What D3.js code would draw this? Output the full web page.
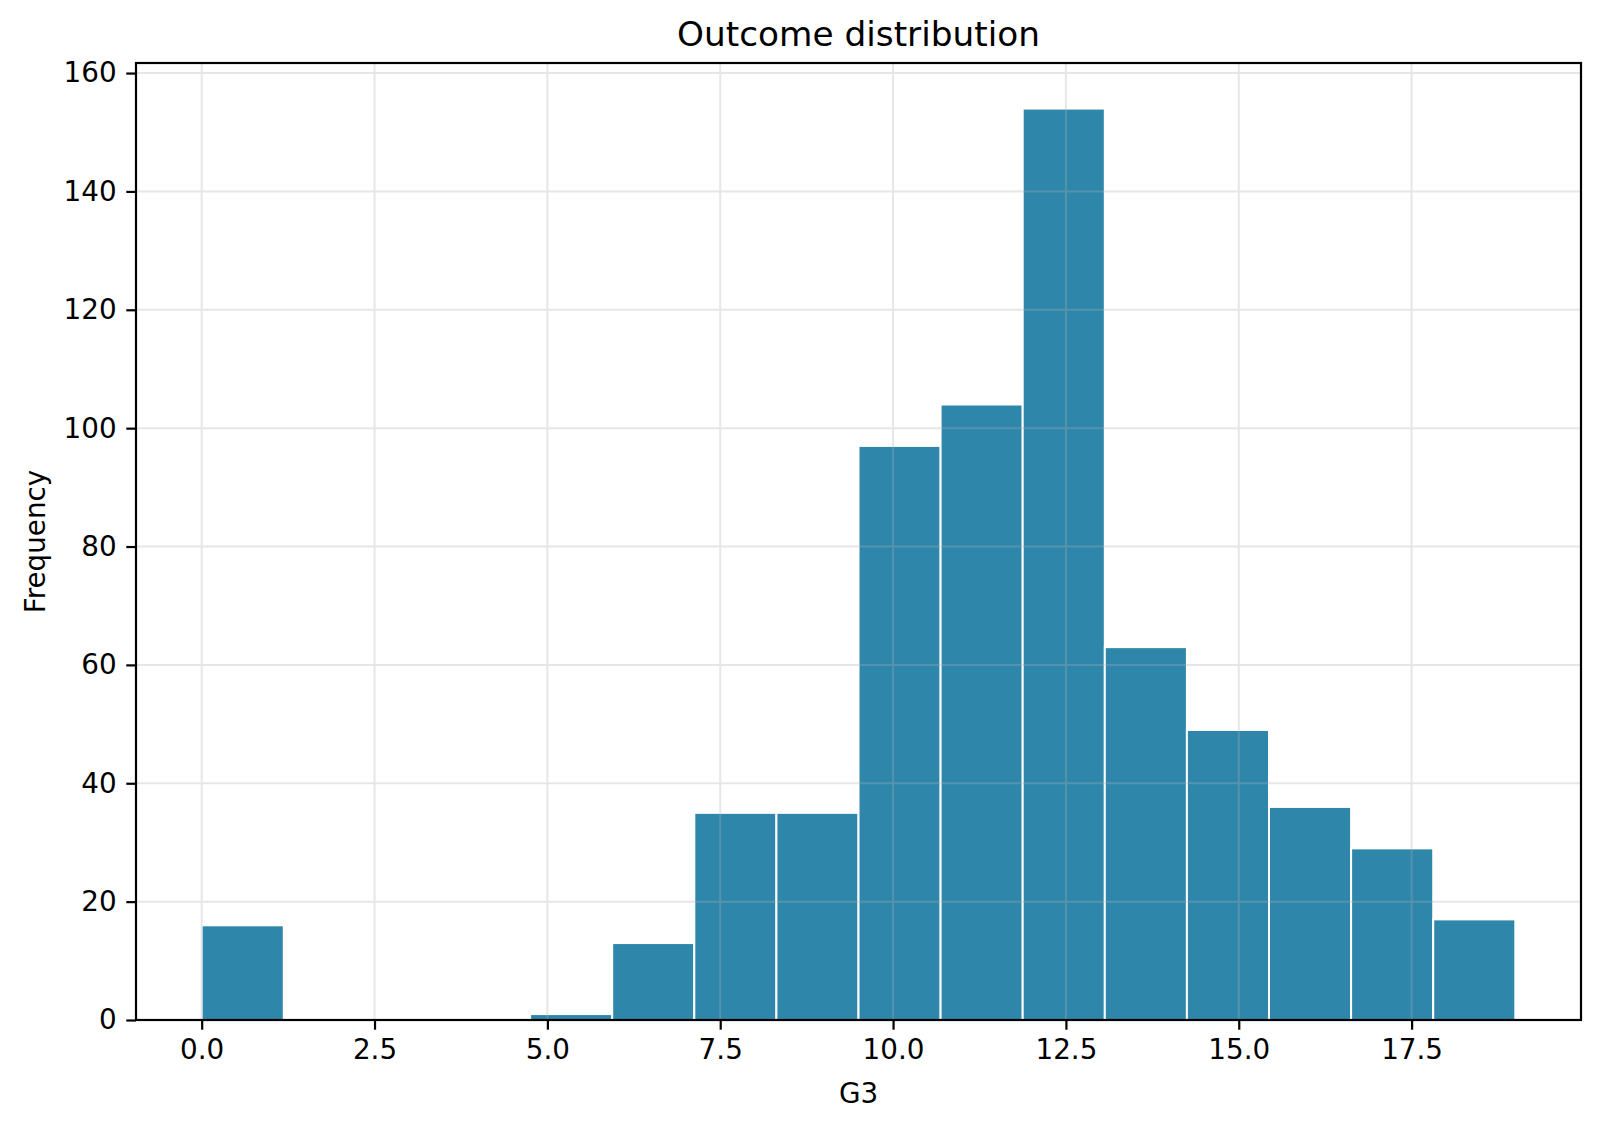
<!DOCTYPE html>
<html>
<head>
<meta charset="utf-8">
<script src="https://cdn.jsdelivr.net/npm/d3@7"></script>
<style>
  body { margin: 0; background: #fff; }
  text { font-family: "DejaVu Sans", sans-serif; fill: #000; }
</style>
</head>
<body>
<script>
// histogram of G3: 16 bins from 0 to 19
const binEdges = d3.range(17).map(i => i * 19 / 16);
const counts = [16, 0, 0, 0, 1, 13, 35, 35, 97, 104, 154, 63, 49, 36, 29, 17];
const xTicks = [0, 2.5, 5, 7.5, 10, 12.5, 15, 17.5];
const yTicks = [0, 20, 40, 60, 80, 100, 120, 140, 160];

const width = 1600;
const height = 1130;
const margin = { top: 63, right: 19, bottom: 110, left: 136 };
const chartWidth = width - margin.left - margin.right;
const chartHeight = height - margin.top - margin.bottom;

const svg = d3.select('body')
    .append('svg')
    .attr('width', width)
    .attr('height', height);

const g = svg.append('g')
    .attr('transform', `translate(${margin.left}, ${margin.top})`);

// matplotlib style 5% margins
const xScale = d3.scaleLinear()
    .domain([0 - 0.95, 19 + 0.95])
    .range([0, chartWidth]);
const yMax = d3.max(counts) * 1.05;
const yScale = d3.scaleLinear()
    .domain([0, yMax])
    .range([chartHeight, 0]);

const bins = counts.map((c, i) => ({ x0: binEdges[i], x1: binEdges[i + 1], n: c }));

// bars
g.selectAll('rect.bar')
    .data(bins.filter(d => d.n > 0))
    .enter()
    .append('rect')
    .attr('class', 'bar')
    .attr('x', d => xScale(d.x0))
    .attr('y', d => yScale(d.n))
    .attr('width', d => xScale(d.x1) - xScale(d.x0))
    .attr('height', d => yScale(0) - yScale(d.n))
    .attr('fill', '#2e87ab')
    .attr('stroke', '#fff')
    .attr('stroke-width', 2);

// grid (drawn above the bars like matplotlib)
const grid = g.append('g').attr('opacity', 0.3);
grid.selectAll('line.gx')
    .data(xTicks)
    .enter()
    .append('line')
    .attr('x1', d => xScale(d)).attr('x2', d => xScale(d))
    .attr('y1', 0).attr('y2', chartHeight)
    .attr('stroke', '#b0b0b0')
    .attr('stroke-width', 2);
grid.selectAll('line.gy')
    .data(yTicks)
    .enter()
    .append('line')
    .attr('y1', d => yScale(d)).attr('y2', d => yScale(d))
    .attr('x1', 0).attr('x2', chartWidth)
    .attr('stroke', '#b0b0b0')
    .attr('stroke-width', 2);

// x axis
const xAxis = g.append('g')
    .attr('transform', `translate(0, ${chartHeight})`)
    .call(d3.axisBottom(xScale).tickValues(xTicks).tickFormat(d3.format('.1f'))
        .tickSize(9.7).tickPadding(9.7).tickSizeOuter(0));
xAxis.select('.domain').remove();
xAxis.selectAll('line').attr('stroke', '#000').attr('stroke-width', 2.2);
xAxis.selectAll('text').attr('font-size', 27.8).attr('fill', '#000')
    .attr('font-family', '"DejaVu Sans", sans-serif');

// y axis
const yAxis = g.append('g')
    .call(d3.axisLeft(yScale).tickValues(yTicks).tickFormat(d3.format('d'))
        .tickSize(9.7).tickPadding(9.7).tickSizeOuter(0));
yAxis.select('.domain').remove();
yAxis.selectAll('line').attr('stroke', '#000').attr('stroke-width', 2.2);
yAxis.selectAll('text').attr('font-size', 27.8).attr('fill', '#000')
    .attr('font-family', '"DejaVu Sans", sans-serif');

// frame
g.append('rect')
    .attr('x', 0).attr('y', 0)
    .attr('width', chartWidth).attr('height', chartHeight)
    .attr('fill', 'none')
    .attr('stroke', '#000')
    .attr('stroke-width', 2.2);

// title and labels
svg.append('text')
    .attr('x', margin.left + chartWidth / 2)
    .attr('y', 46)
    .attr('text-anchor', 'middle')
    .attr('font-size', 34.3)
    .text('Outcome distribution');

svg.append('text')
    .attr('x', margin.left + chartWidth / 2)
    .attr('y', 1103)
    .attr('text-anchor', 'middle')
    .attr('font-size', 27.8)
    .text('G3');

svg.append('text')
    .attr('transform', `translate(45, ${margin.top + chartHeight / 2}) rotate(-90)`)
    .attr('text-anchor', 'middle')
    .attr('font-size', 27.8)
    .text('Frequency');
</script>
</body>
</html>
